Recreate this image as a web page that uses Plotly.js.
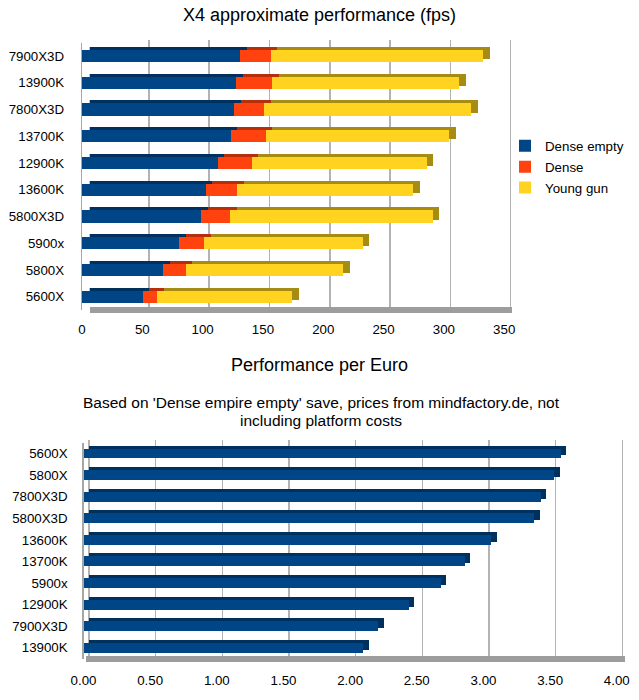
<!DOCTYPE html>
<html>
<head>
<meta charset="utf-8">
<script src="https://cdn.plot.ly/plotly-3.0.1.min.js"></script>
<style>html,body{margin:0;padding:0;background:#fff;}#chart{width:639px;height:700px;}</style>
</head>
<body>
<div id="chart"></div>
<script>
// ---- data: chart 1 (top-to-bottom order) ----
const cpuPerf = ['7900X3D','13900K','7800X3D','13700K','12900K','13600K','5800X3D','5900x','5800X','5600X'];
const denseEmpty = [131.0, 127.7, 126.3, 123.5, 112.5, 102.6, 98.7, 80.7, 67.4, 50.3];
const dense      = [25.4, 30.1, 24.9, 28.8, 28.2, 26.2, 24.0, 20.5, 18.6, 12.2];
const youngGun   = [176.4, 155.0, 171.4, 152.2, 145.1, 145.9, 168.1, 131.6, 130.7, 111.9];
const seriesNames = ['Dense empty','Dense','Young gun'];
const perfTicks = [0,50,100,150,200,250,300,350];

// ---- data: chart 2 (top-to-bottom order) ----
const cpuEuro = ['5600X','5800X','7800X3D','5800X3D','13600K','13700K','5900x','12900K','7900X3D','13900K'];
const perfPerEuro = [3.58, 3.53, 3.43, 3.38, 3.06, 2.86, 2.68, 2.44, 2.21, 2.10];
const euroTicks = [0,0.5,1,1.5,2,2.5,3,3.5,4];

// ---- styling ----
const FONT = '"Liberation Sans", Arial, sans-serif';
const faceCol = ['#004586','#ff420e','#ffd320'];
const sideCol = ['#00305d','#b52f0a','#a68c12'];
const W = 639, H = 700;
const px = x => x / W;
const py = y => (H - y) / H;
function xdom(x0, s, r){ return [px(x0 + s*r[0]), px(x0 + s*r[1])]; }
function ydom(top, bottom){ return [py(bottom), py(top)]; }

const sT = 422.2/350;   // px per fps
const sB = 533.3/4;     // px per unit

const data = [];
const vals = [denseEmpty, dense, youngGun];
// depth (back) bars chart 1 — also hosts the back-wall grid
vals.forEach((v,i)=>data.push({type:'bar', orientation:'h', x:v, y:cpuPerf, xaxis:'x', yaxis:'y',
  marker:{color:sideCol[i], line:{width:0}}, showlegend:false, hoverinfo:'skip', legendgroup:'g'+i}));
// front bars chart 1
vals.forEach((v,i)=>data.push({type:'bar', orientation:'h', x:v, y:cpuPerf, xaxis:'x2', yaxis:'y2',
  name:seriesNames[i], legendgroup:'g'+i, marker:{color:faceCol[i], line:{width:0}}}));
// chart 2
data.push({type:'bar', orientation:'h', x:perfPerEuro, y:cpuEuro, xaxis:'x3', yaxis:'y3',
  marker:{color:sideCol[0], line:{width:0}}, showlegend:false, hoverinfo:'skip'});
data.push({type:'bar', orientation:'h', x:perfPerEuro, y:cpuEuro, xaxis:'x4', yaxis:'y4',
  marker:{color:faceCol[0], line:{width:0}}, showlegend:false, name:'Performance per Euro'});

const gridCol = '#b3b3b3';
const floorCol = '#9d9d9d';
const tickFont = {family:FONT, size:13.3, color:'#000'};

const layout = {
  width:W, height:H, margin:{l:0,r:0,t:0,b:0},
  paper_bgcolor:'#fff', plot_bgcolor:'rgba(0,0,0,0)',
  barmode:'stack', bargap:0.54,
  font:{family:FONT, color:'#000'},
  title:{text:'X4 approximate performance (fps)', font:{family:FONT, size:18, color:'#000'},
         x:0.5, xanchor:'center', y:py(15), yanchor:'middle', xref:'paper', yref:'paper'},
  // chart 1: back plane (depth bars, grid, floor)
  xaxis:{anchor:'y', domain:xdom(88.5, sT, [1,351]), range:[1,351], tickvals:perfTicks, showticklabels:false,
         showgrid:true, gridcolor:gridCol, gridwidth:1.6, zeroline:false,
         showline:true, linecolor:floorCol, linewidth:6, ticks:'', fixedrange:true},
  yaxis:{anchor:'x', domain:ydom(39.6,307.2), range:[9.5,-0.5], type:'category',
         categoryorder:'array', categoryarray:cpuPerf, showgrid:false, zeroline:false,
         showticklabels:false, showline:false, ticks:'', fixedrange:true},
  // chart 1: front bars + labels
  xaxis2:{anchor:'y2', domain:xdom(82, sT, [0,350]), range:[0,350], tickvals:perfTicks,
          showgrid:false, zeroline:false, showline:false, ticks:'', tickfont:tickFont,
          ticklabelshift:-2.5, ticklabelstandoff:9, fixedrange:true},
  yaxis2:{anchor:'x2', domain:ydom(42.6,310.2), range:[9.5,-0.5], type:'category',
          categoryorder:'array', categoryarray:cpuPerf, showgrid:false, zeroline:false,
          showline:true, linecolor:'#a6a6a6', linewidth:1.2, ticks:'', tickfont:tickFont,
          ticklabelstandoff:14, fixedrange:true},
  // chart 2: back plane
  xaxis3:{anchor:'y3', domain:xdom(89, sB, [-0.02,4.02]), range:[-0.02,4.02], tickvals:euroTicks,
          showticklabels:false, showgrid:true, gridcolor:gridCol, gridwidth:1.6, zeroline:false,
          showline:true, linecolor:floorCol, linewidth:6, ticks:'', fixedrange:true},
  yaxis3:{anchor:'x3', domain:ydom(439.7,655.6), range:[9.5,-0.5], type:'category',
          categoryorder:'array', categoryarray:cpuEuro, showgrid:false, zeroline:false,
          showticklabels:false, showline:false, ticks:'', fixedrange:true},
  // chart 2: front bars + labels
  xaxis4:{anchor:'y4', domain:xdom(83.5, sB, [0,4]), range:[0,4], tickvals:euroTicks, tickformat:'.2f',
          showgrid:false, zeroline:false, showline:false, ticks:'', tickfont:tickFont,
          ticklabelshift:-3.5, ticklabelstandoff:12, fixedrange:true},
  yaxis4:{anchor:'x4', domain:ydom(442.7,658.6), range:[9.5,-0.5], type:'category',
          categoryorder:'array', categoryarray:cpuEuro, showgrid:false, zeroline:false,
          showline:true, linecolor:'#a6a6a6', linewidth:1.2, ticks:'', tickfont:tickFont,
          ticklabelstandoff:12, fixedrange:true},
  legend:{x:px(505), xanchor:'left', y:py(166.7), yanchor:'middle', traceorder:'grouped',
          tracegroupgap:0.5, bgcolor:'rgba(0,0,0,0)', font:{family:FONT, size:13.3, color:'#000'}},
  annotations:[
    {text:'Performance per Euro', xref:'paper', yref:'paper', x:0.5, y:py(365), xanchor:'center',
     yanchor:'middle', showarrow:false, font:{family:FONT, size:18, color:'#000'}},
    {text:"Based on 'Dense empire empty' save, prices from mindfactory.de, not", xref:'paper', yref:'paper',
     x:0.503, y:py(402), xanchor:'center', yanchor:'middle', showarrow:false, font:{family:FONT, size:15.5, color:'#000'}},
    {text:'including platform costs', xref:'paper', yref:'paper',
     x:0.503, y:py(420), xanchor:'center', yanchor:'middle', showarrow:false, font:{family:FONT, size:15.5, color:'#000'}}
  ]
};

Plotly.newPlot('chart', data, layout, {displayModeBar:false, staticPlot:true});
</script>
</body>
</html>
